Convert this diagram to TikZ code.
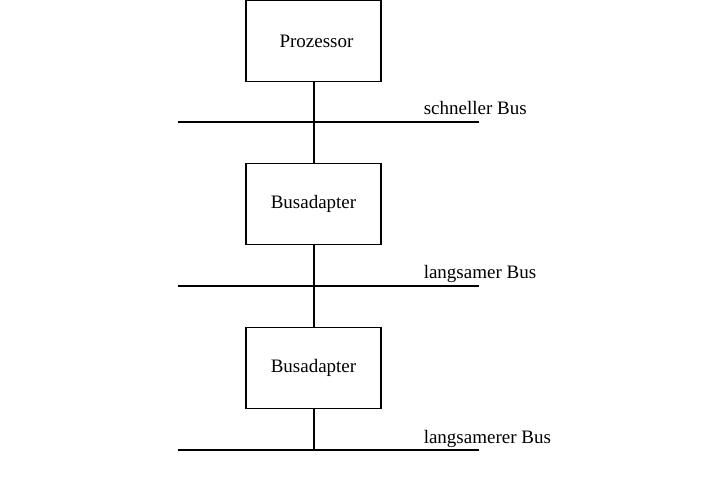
\documentclass[tikz,border=0pt]{standalone}
\usepackage{fontspec}
\setmainfont{Liberation Serif}
\begin{document}
\begin{tikzpicture}[x=1pt,y=-1pt,line width=1.5pt,
  box/.style={draw,minimum width=135pt,minimum height=81pt,inner sep=0pt,font=\fontsize{19}{22}\selectfont},
  lbl/.style={anchor=base west,inner sep=0pt,font=\fontsize{19}{22}\selectfont}]
\useasboundingbox (0,0) rectangle (725,486);
\node[box] (p) at (313.5,41) {\hspace*{6pt}Prozessor};
\node[box] (a1) at (313.5,204) {Busadapter};
\node[box] (a2) at (313.5,368) {Busadapter};
\coordinate (b1l) at (178,122); \coordinate (b1r) at (479,122);
\coordinate (b2l) at (178,286); \coordinate (b2r) at (479,286);
\coordinate (b3l) at (178,450); \coordinate (b3r) at (479,450);
\coordinate (b3m) at (314,450);
\draw (b1l) -- (b1r);
\draw (b2l) -- (b2r);
\draw (b3l) -- (b3r);
\draw (p.south -| 314,0) -- (a1.north -| 314,0);
\draw (a1.south -| 314,0) -- (a2.north -| 314,0);
\draw (a2.south -| 314,0) -- (b3m);
\node[lbl] (l1) at (423,115) {schneller Bus};
\node[lbl] (l2) at (423,279) {langsamer Bus};
\node[lbl] (l3) at (423,443) {langsamerer Bus};
\end{tikzpicture}
\end{document}
